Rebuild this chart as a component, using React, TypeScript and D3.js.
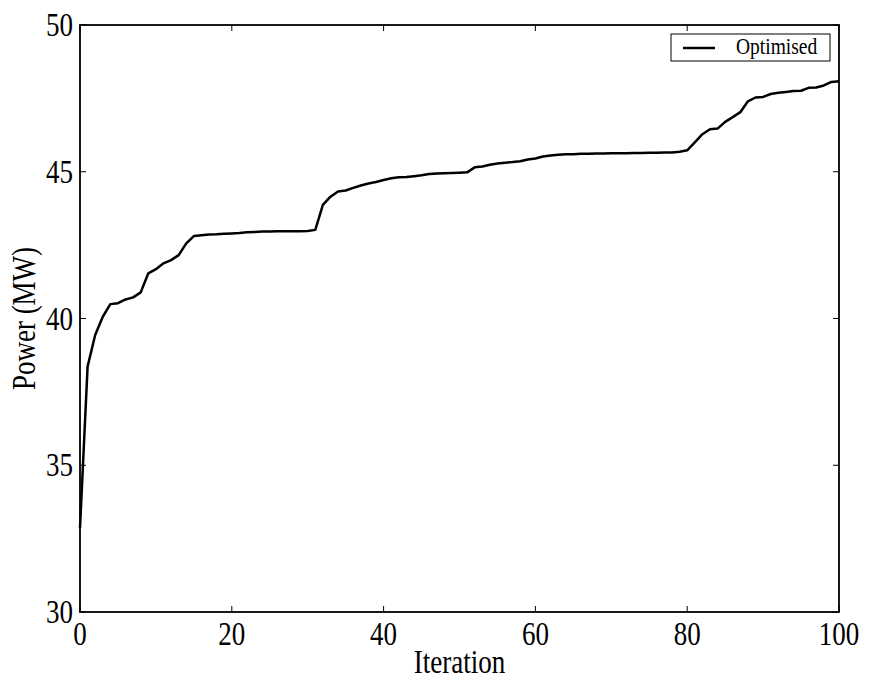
import React, { useRef, useEffect } from "react";
import * as d3 from "d3";

// Optimised power per iteration
const iterations = d3.range(0, 101);
const power = [
  32.86, 38.36, 39.44, 40.06, 40.49, 40.52, 40.65, 40.72, 40.89, 41.54,
  41.68, 41.88, 41.99, 42.16, 42.56, 42.81, 42.84, 42.86, 42.87, 42.89,
  42.9, 42.91, 42.94, 42.95, 42.96, 42.96, 42.97, 42.97, 42.97, 42.97,
  42.98, 43.02, 43.87, 44.15, 44.33, 44.36, 44.45, 44.53, 44.6, 44.65,
  44.72, 44.78, 44.81, 44.82, 44.85, 44.88, 44.92, 44.94, 44.95, 44.96,
  44.97, 44.98, 45.15, 45.18, 45.24, 45.28, 45.31, 45.33, 45.36, 45.42,
  45.45, 45.52, 45.55, 45.58, 45.6, 45.6, 45.61, 45.61, 45.62, 45.62,
  45.63, 45.63, 45.63, 45.64, 45.64, 45.65, 45.65, 45.66, 45.66, 45.68,
  45.73, 46.0, 46.28, 46.45, 46.47, 46.7, 46.86, 47.03, 47.4, 47.53,
  47.55, 47.65, 47.69, 47.72, 47.75, 47.76, 47.86, 47.87, 47.94, 48.06,
  48.08,
];
const xTicks = [0, 20, 40, 60, 80, 100];
const yTicks = [30, 35, 40, 45, 50];
const seriesName = "Optimised";

const FONT = "'Liberation Serif', 'Times New Roman', serif";

export default function App() {
  const svgRef = useRef<SVGSVGElement>(null);

  useEffect(() => {
    const width = 872;
    const height = 689;
    const m = { left: 80, right: 33, top: 25, bottom: 77 };
    const svg = d3.select(svgRef.current);
    svg.selectAll("*").remove();
    svg.attr("width", width).attr("height", height);

    const x = d3.scaleLinear().domain([0, 100]).range([m.left, width - m.right]);
    const y = d3.scaleLinear().domain([30, 50]).range([height - m.bottom, m.top]);

    // tall serif text, like the reference
    const label = (tx: number, ty: number, s: string, size: number, anchor: string, rot = 0, stretch = 1.25) =>
      svg
        .append("text")
        .attr("transform", `translate(${tx},${ty}) rotate(${rot}) scale(1,${stretch})`)
        .attr("text-anchor", anchor)
        .attr("font-family", FONT)
        .attr("font-size", size)
        .attr("fill", "#000")
        .text(s);

    // ticks, inward on all four sides
    const tl = 6;
    xTicks.forEach((t) => {
      svg.append("line").attr("x1", x(t)).attr("x2", x(t)).attr("y1", y(30)).attr("y2", y(30) - tl).attr("stroke", "#000");
      svg.append("line").attr("x1", x(t)).attr("x2", x(t)).attr("y1", y(50)).attr("y2", y(50) + tl).attr("stroke", "#000");
      label(x(t), y(30) + 33, String(t), 27, "middle");
    });
    yTicks.forEach((t) => {
      svg.append("line").attr("x1", x(0)).attr("x2", x(0) + tl).attr("y1", y(t)).attr("y2", y(t)).attr("stroke", "#000");
      svg.append("line").attr("x1", x(100)).attr("x2", x(100) - tl).attr("y1", y(t)).attr("y2", y(t)).attr("stroke", "#000");
      label(x(0) - 7, y(t) + 11, String(t), 27, "end");
    });

    // line
    const line = d3
      .line<number>()
      .x((_, i) => x(iterations[i]))
      .y((d) => y(d));
    svg
      .append("path")
      .datum(power)
      .attr("d", line)
      .attr("fill", "none")
      .attr("stroke", "#000")
      .attr("stroke-width", 2.5)
      .attr("stroke-linejoin", "round");

    // frame
    svg
      .append("rect")
      .attr("x", x(0))
      .attr("y", y(50))
      .attr("width", x(100) - x(0))
      .attr("height", y(30) - y(50))
      .attr("fill", "none")
      .attr("stroke", "#000")
      .attr("stroke-width", 1.8);

    // axis titles
    label((x(0) + x(100)) / 2, 673, "Iteration", 27, "middle");
    label(35, (y(30) + y(50)) / 2, "Power (MW)", 27, "middle", -90);

    // legend
    const lg = svg.append("g");
    lg.append("rect")
      .attr("x", 671).attr("y", 34).attr("width", 159).attr("height", 27)
      .attr("fill", "#fff").attr("stroke", "#000").attr("stroke-width", 1);
    lg.append("line")
      .attr("x1", 683).attr("x2", 715).attr("y1", 48).attr("y2", 48)
      .attr("stroke", "#000").attr("stroke-width", 2.5);
    label(736, 54, seriesName, 19.5, "start", 0, 1.15);
  }, []);

  return <svg ref={svgRef} style={{ display: "block", position: "absolute", left: 0, top: 0 }} />;
}
